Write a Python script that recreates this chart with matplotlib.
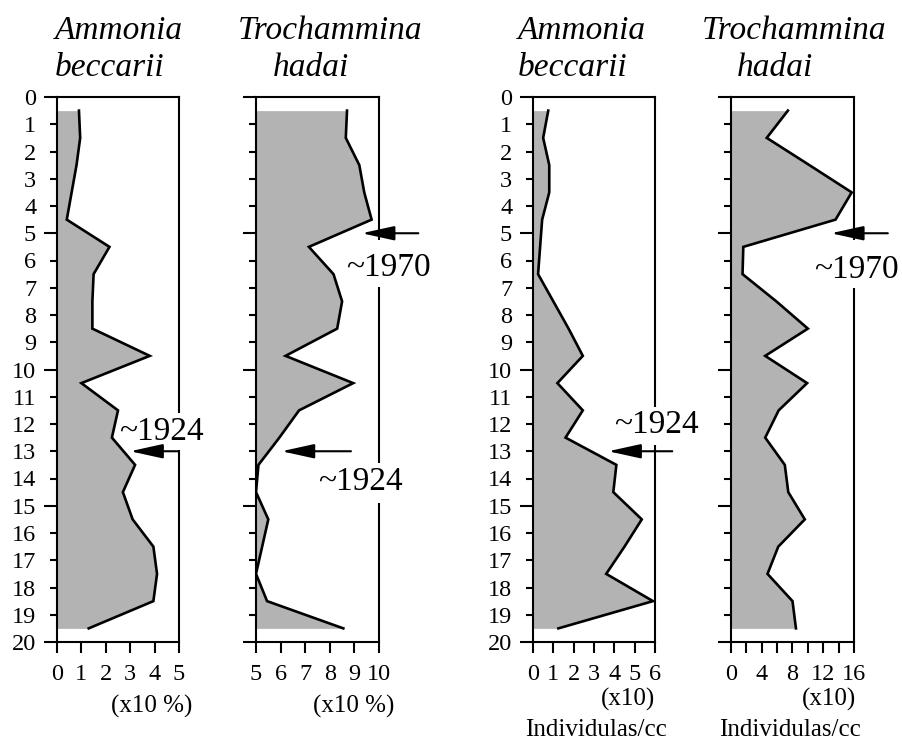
import matplotlib
matplotlib.use('Agg')
import matplotlib.pyplot as plt

plt.rcParams['font.family'] = ['Liberation Serif', 'DejaVu Serif']

# ---- data ----
depth = [0.5 + i for i in range(20)]  # cm
ammonia_pct = [0.9, 0.95, 0.8, 0.6, 0.4, 2.15, 1.5, 1.45, 1.45, 3.8,
               1.0, 2.5, 2.25, 3.2, 2.7, 3.1, 3.95, 4.1, 3.95, 1.3]
trocham_pct = [8.7, 8.65, 9.2, 9.4, 9.7, 7.15, 8.15, 8.5, 8.3, 6.2,
               8.95, 6.75, 5.95, 5.1, 5.0, 5.5, 5.25, 5.0, 5.45, 8.55]
ammonia_ind = [0.75, 0.5, 0.8, 0.8, 0.45, 0.35, 0.25, 1.0, 1.75, 2.45,
               1.2, 2.45, 1.6, 4.1, 3.95, 5.35, 4.5, 3.6, 5.9, 1.25]
trocham_ind = [7.4, 4.65, 10.2, 15.7, 13.6, 1.6, 1.5, 5.9, 10.0, 4.45,
               9.9, 6.2, 4.45, 7.0, 7.45, 9.6, 6.15, 4.75, 8.0, 8.45]

titles = [("Ammonia", "beccarii"), ("Trochammina", "hadai"),
          ("Ammonia", "beccarii"), ("Trochammina", "hadai")]
depth_ticks = list(range(0, 21))

W, H = 903, 748
fig = plt.figure(figsize=(W / 100, H / 100), dpi=100)
fig.patch.set_facecolor('white')

def px_axes(x0, x1, y0, y1):
    return fig.add_axes([x0 / W, 1 - y1 / H, (x1 - x0) / W, (y1 - y0) / H])

panels = [
    dict(box=(57, 179), vals=ammonia_pct, xlim=(0, 5), xticks=[0, 1, 2, 3, 4, 5],
         xlabels=['0', '1', '2', '3', '4', '5'], minor_x=[], ylab=True),
    dict(box=(256, 379), vals=trocham_pct, xlim=(5, 10), xticks=[5, 6, 7, 8, 9, 10],
         xlabels=['5', '6', '7', '8', '9', '10'], minor_x=[], ylab=False),
    dict(box=(533, 655), vals=ammonia_ind, xlim=(0, 6), xticks=[0, 1, 2, 3, 4, 5, 6],
         xlabels=['0', '1', '2', '3', '4', '5', '6'], minor_x=[], ylab=True),
    dict(box=(731, 854), vals=trocham_ind, xlim=(0, 16), xticks=[0, 4, 8, 12, 16],
         xlabels=['0', '4', '8', '12', '16'], minor_x=[2, 6, 10, 14], ylab=False),
]

fill_col = '#b3b3b3'
tick_fs = 17.5
axes = []
for p in panels:
    ax = px_axes(p['box'][0], p['box'][1], 97, 642)
    axes.append(ax)
    x0, x1 = p['xlim']
    ax.set_xlim(x0, x1)
    ax.set_ylim(20, 0)
    ax.fill_betweenx(depth, x0, p['vals'], color=fill_col, lw=0, zorder=1)
    ax.plot(p['vals'], depth, color='black', lw=1.9, zorder=2,
            solid_joinstyle='miter')
    for s in ax.spines.values():
        s.set_linewidth(1.5)
    major_y = [0, 5, 10, 15, 20]
    minor_y = [d for d in depth_ticks if d not in major_y]
    if p['ylab']:
        ax.set_yticks(major_y, labels=[str(v) for v in major_y])
        ax.set_yticks(minor_y, labels=[str(v) for v in minor_y], minor=True)
    else:
        ax.set_yticks(major_y)
        ax.set_yticks(minor_y, minor=True)
    ax.tick_params(axis='y', which='major', direction='out', length=9.5, width=1.5,
                   pad=5.5, labelsize=tick_fs, labelleft=p['ylab'])
    ax.tick_params(axis='y', which='minor', direction='out', length=5, width=1.5,
                   pad=10.0, labelsize=tick_fs, labelleft=p['ylab'])
    ax.set_xticks(p['xticks'], labels=p['xlabels'])
    if p['minor_x']:
        ax.set_xticks(p['minor_x'], minor=True)
    ax.tick_params(axis='x', which='both', direction='out', length=8, width=1.5,
                   pad=8, labelsize=tick_fs)

# titles
title_pos = [(55, 55), (238, 273), (518, 518), (702, 737)]
for (l1, l2), (xa, xb) in zip(titles, title_pos):
    fig.text(xa / W, 1 - 39 / H, l1, fontsize=24, style='italic', va='baseline', ha='left')
    fig.text(xb / W, 1 - 76 / H, l2, fontsize=24, style='italic', va='baseline', ha='left')

# unit labels
fig.text(152 / W, 1 - 713 / H, '(x10 %)', fontsize=18, ha='center', va='baseline')
fig.text(354 / W, 1 - 713 / H, '(x10 %)', fontsize=18, ha='center', va='baseline')
fig.text(628 / W, 1 - 706 / H, '(x10)', fontsize=18, ha='center', va='baseline')
fig.text(829 / W, 1 - 706 / H, '(x10)', fontsize=18, ha='center', va='baseline')
fig.text(596 / W, 1 - 736 / H, 'Individulas/cc', fontsize=18, ha='center', va='baseline')
fig.text(790 / W, 1 - 736 / H, 'Individulas/cc', fontsize=18, ha='center', va='baseline')

# date markers: (panel, tip x, tail x, depth, label, text x, text depth, gap top, gap bottom)
markers = [
    (0, 3.0, 5.0, 13, '~1924', 4.26, 12.3, 11.6, 12.95),
    (1, 9.3, 11.6, 5, '~1970', 10.37, 6.27, 5.25, 6.97),
    (1, 6.04, 8.86, 13, '~1924', 9.23, 14.13, 13.43, 14.9),
    (2, 3.7, 6.85, 13, '~1924', 6.06, 12.04, 11.38, 12.77),
    (3, 13.0, 20.4, 5, '~1970', 16.3, 6.35, 5.25, 7.0),
]
for pi, tip, tail, d, lab, tx, td, g0, g1 in markers:
    ax = axes[pi]
    xmax = ax.get_xlim()[1]
    # break in the right frame line behind the label
    ax.plot([xmax, xmax], [g0, g1], color='white', lw=4, zorder=4,
            solid_capstyle='butt', clip_on=False)
    ax.text(tx, td, lab, fontsize=24, ha='center', va='center', zorder=5,
            clip_on=False)
    ax.annotate('', xy=(tip, d), xytext=(tail, d), annotation_clip=False, zorder=6,
                arrowprops=dict(arrowstyle='-|>,head_length=1.0,head_width=0.22',
                                mutation_scale=20, color='black', lw=1.5,
                                shrinkA=0, shrinkB=0))

fig.savefig('out.png', dpi=100, facecolor='white')
